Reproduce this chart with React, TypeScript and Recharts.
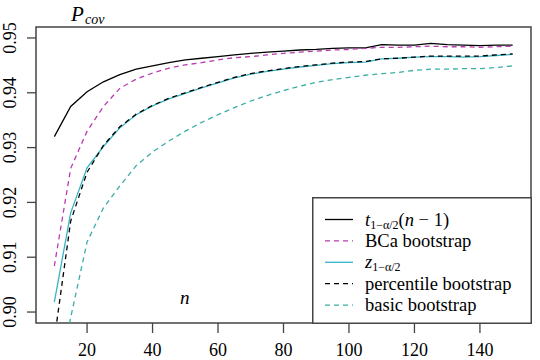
import React from 'react'
import {
  LineChart, Line, XAxis, YAxis, Legend, ReferenceArea, Customized,
} from 'recharts'

// sample sizes n
const nVals = [10, 15, 20, 25, 30, 35, 40, 45, 50, 55, 60, 65, 70, 75, 80, 85, 90, 95, 100, 105, 110, 115, 120, 125, 130, 135, 140, 145, 150]

// coverage probabilities
const tCrit = [0.9320, 0.9375, 0.9402, 0.9420, 0.9433, 0.9443, 0.9449, 0.9455, 0.9460, 0.9463, 0.9466, 0.9469, 0.9472, 0.9474, 0.9476, 0.9478, 0.9479, 0.9481, 0.9482, 0.9482, 0.9488, 0.9487, 0.9487, 0.9490, 0.9488, 0.9487, 0.9486, 0.9487, 0.9487]
const bca = [0.9084, 0.9262, 0.9330, 0.9375, 0.9408, 0.9425, 0.9436, 0.9445, 0.9451, 0.9455, 0.9460, 0.9464, 0.9466, 0.9469, 0.9472, 0.9474, 0.9476, 0.9478, 0.9479, 0.9481, 0.9483, 0.9483, 0.9484, 0.9485, 0.9484, 0.9484, 0.9483, 0.9484, 0.9485]
const zCrit = [0.9018, 0.9181, 0.9263, 0.9302, 0.9336, 0.9360, 0.9376, 0.9389, 0.9399, 0.9409, 0.9418, 0.9427, 0.9434, 0.9439, 0.9443, 0.9447, 0.9450, 0.9453, 0.9455, 0.9456, 0.9462, 0.9463, 0.9465, 0.9466, 0.9466, 0.9465, 0.9466, 0.9468, 0.9470]
const percentile = [0.8950, 0.9166, 0.9255, 0.9304, 0.9338, 0.9361, 0.9377, 0.9390, 0.9400, 0.9410, 0.9419, 0.9428, 0.9435, 0.9440, 0.9444, 0.9448, 0.9451, 0.9454, 0.9456, 0.9457, 0.9462, 0.9463, 0.9465, 0.9467, 0.9467, 0.9467, 0.9467, 0.9469, 0.9471]
const basic = [0.8850, 0.8990, 0.9128, 0.9190, 0.9230, 0.9267, 0.9292, 0.9312, 0.9330, 0.9346, 0.9360, 0.9373, 0.9385, 0.9395, 0.9404, 0.9412, 0.9419, 0.9424, 0.9428, 0.9432, 0.9435, 0.9437, 0.9441, 0.9443, 0.9443, 0.9444, 0.9444, 0.9446, 0.9449]

const xTicks = [20, 40, 60, 80, 100, 120, 140]
const yTicks = [0.90, 0.91, 0.92, 0.93, 0.94, 0.95]

const data = nVals.map((n, i) => ({
  n,
  t: tCrit[i],
  bca: bca[i],
  z: zCrit[i],
  perc: percentile[i],
  basic: basic[i],
}))

const FONT = "'Liberation Serif', 'Times New Roman', 'DejaVu Serif', serif"
const AXIS = '#444'
const txt = { fontFamily: FONT }

const order = ['t', 'bca', 'z', 'perc', 'basic']
const styles: Record<string, { color: string; dash?: string }> = {
  t: { color: '#000000' },
  bca: { color: '#b83cb0', dash: '5 4' },
  z: { color: '#36b4c4' },
  perc: { color: '#000000', dash: '5 4' },
  basic: { color: '#3aaea6', dash: '5 4' },
}

const sub = (s: string) => (
  <tspan fontSize={12} dy={3}>{s}</tspan>
)

const labels: Record<string, React.ReactNode> = {
  t: (
    <>
      <tspan fontStyle="italic">t</tspan>
      {sub('1−α/2')}
      <tspan dy={-3}>(</tspan>
      <tspan fontStyle="italic">n</tspan>
      <tspan> − 1)</tspan>
    </>
  ),
  bca: 'BCa bootstrap',
  z: (
    <>
      <tspan fontStyle="italic">z</tspan>
      {sub('1−α/2')}
    </>
  ),
  perc: 'percentile bootstrap',
  basic: 'basic bootstrap',
}

function XTick({ x, payload }: any) {
  return (
    <text x={x} y={356} textAnchor="middle" fontSize={18} style={txt} fill="#000">
      {payload.value}
    </text>
  )
}

function YTick({ y, payload }: any) {
  return (
    <text
      x={16} y={y} transform={`rotate(-90 16 ${y})`}
      textAnchor="middle" fontSize={18} style={txt} fill="#000"
    >
      {Number(payload.value).toFixed(2)}
    </text>
  )
}

function LegendBox({ payload }: any) {
  const items = [...(payload || [])].sort(
    (a: any, b: any) => order.indexOf(String(a.dataKey)) - order.indexOf(String(b.dataKey)),
  )
  return (
    <svg width={220} height={127} style={{ display: 'block' }}>
      <rect x={0.75} y={0.75} width={218.5} height={125.5} fill="#fff" stroke={AXIS} strokeWidth={1.5} />
      {items.map((item: any, i: number) => {
        const key = String(item.dataKey)
        const st = styles[key]
        const cy = 22.5 + i * 21.4
        return (
          <g key={key}>
            <line x1={13} x2={41} y1={cy} y2={cy} stroke={st.color} strokeWidth={1.3} strokeDasharray={st.dash} />
            <text x={53} y={cy + 6} fontSize={18.5} style={txt} fill="#000">{labels[key]}</text>
          </g>
        )
      })}
    </svg>
  )
}

function Annotations() {
  return (
    <g fill="#000">
      <text x={71} y={21} fontSize={21} fontStyle="italic" style={txt}>P</text>
      <text x={85} y={24} fontSize={14} fontStyle="italic" style={txt}>cov</text>
      <text x={180} y={304} fontSize={19} fontStyle="italic" style={txt}>n</text>
    </g>
  )
}

export default function App() {
  return (
    <div style={{ position: 'absolute', left: 0, top: 0, width: 540, height: 360, background: '#fff' }}>
      <LineChart width={540} height={360} data={data} margin={{ top: 27, right: 9, bottom: 0, left: 0 }}>
        <XAxis
          dataKey="n" type="number" domain={[4.4, 155.6]} ticks={xTicks}
          height={37} axisLine={false} tickSize={10}
          tickLine={{ stroke: AXIS, strokeWidth: 1.3 }} tick={<XTick />}
        />
        <YAxis
          type="number" domain={[0.898, 0.952]} ticks={yTicks} allowDataOverflow
          width={36} axisLine={false} tickSize={9}
          tickLine={{ stroke: AXIS, strokeWidth: 1.3 }} tick={<YTick />}
        />
        <ReferenceArea x1={4.4} x2={155.6} y1={0.898} y2={0.952} fill="none" stroke={AXIS} strokeWidth={1.5} />
        <Line dataKey="t" name="t" stroke={styles.t.color} strokeWidth={1.3} dot={false} isAnimationActive={false} />
        <Line dataKey="bca" name="BCa bootstrap" stroke={styles.bca.color} strokeWidth={1.3} strokeDasharray={styles.bca.dash} dot={false} isAnimationActive={false} />
        <Line dataKey="z" name="z" stroke={styles.z.color} strokeWidth={1.3} dot={false} isAnimationActive={false} />
        <Line dataKey="perc" name="percentile bootstrap" stroke={styles.perc.color} strokeWidth={1.3} strokeDasharray={styles.perc.dash} dot={false} isAnimationActive={false} />
        <Line dataKey="basic" name="basic bootstrap" stroke={styles.basic.color} strokeWidth={1.3} strokeDasharray={styles.basic.dash} dot={false} isAnimationActive={false} />
        <Legend
          layout="horizontal" verticalAlign="middle" align="center"
          content={<LegendBox />}
          wrapperStyle={{ left: 312, top: 197, width: 220, height: 127, bottom: 'auto', right: 'auto' }}
        />
        <Customized component={<Annotations />} />
      </LineChart>
    </div>
  )
}
